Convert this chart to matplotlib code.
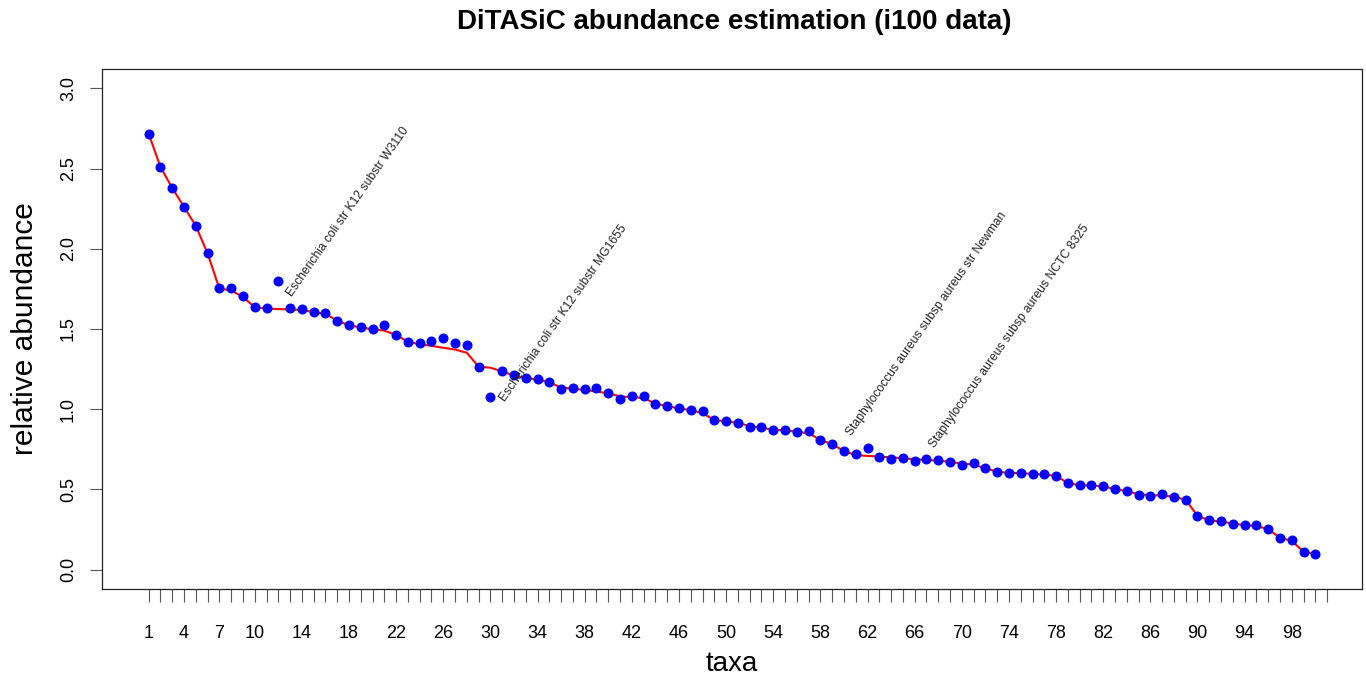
import numpy as np
import matplotlib.pyplot as plt

plt.rcParams['font.family'] = ['Liberation Sans', 'DejaVu Sans']

# estimated abundance per taxon (blue dots), taxa ordered by true abundance
estimated = [2.717, 2.510, 2.379, 2.261, 2.143, 1.971, 1.753, 1.753, 1.705, 1.635,
             1.628, 1.800, 1.628, 1.624, 1.605, 1.601, 1.551, 1.523, 1.514, 1.498,
             1.523, 1.464, 1.421, 1.411, 1.427, 1.446, 1.411, 1.400, 1.265, 1.078,
             1.238, 1.213, 1.197, 1.191, 1.172, 1.124, 1.131, 1.124, 1.131, 1.101,
             1.064, 1.083, 1.083, 1.035, 1.021, 1.006, 0.994, 0.991, 0.933, 0.929,
             0.917, 0.892, 0.888, 0.871, 0.871, 0.857, 0.865, 0.809, 0.782, 0.740,
             0.722, 0.757, 0.705, 0.693, 0.699, 0.680, 0.689, 0.683, 0.674, 0.653,
             0.664, 0.633, 0.610, 0.604, 0.604, 0.597, 0.597, 0.585, 0.540, 0.527,
             0.527, 0.521, 0.502, 0.492, 0.467, 0.462, 0.469, 0.456, 0.436, 0.336,
             0.307, 0.301, 0.288, 0.276, 0.276, 0.253, 0.199, 0.185, 0.112, 0.100]

# true abundance (red line)
true_abund = [2.717, 2.510, 2.379, 2.261, 2.143, 1.971, 1.753, 1.740, 1.700, 1.635,
              1.628, 1.624, 1.622, 1.618, 1.605, 1.595, 1.551, 1.523, 1.510, 1.498,
              1.490, 1.462, 1.421, 1.405, 1.395, 1.383, 1.372, 1.352, 1.265, 1.259,
              1.235, 1.210, 1.195, 1.185, 1.168, 1.135, 1.128, 1.120, 1.110, 1.100,
              1.080, 1.075, 1.070, 1.035, 1.020, 1.005, 0.995, 0.975, 0.933, 0.925,
              0.915, 0.895, 0.885, 0.872, 0.868, 0.860, 0.850, 0.809, 0.782, 0.740,
              0.715, 0.709, 0.705, 0.700, 0.695, 0.688, 0.684, 0.680, 0.672, 0.662,
              0.655, 0.633, 0.610, 0.604, 0.602, 0.597, 0.593, 0.585, 0.540, 0.527,
              0.525, 0.520, 0.502, 0.490, 0.470, 0.465, 0.462, 0.455, 0.436, 0.336,
              0.307, 0.300, 0.288, 0.278, 0.272, 0.253, 0.199, 0.180, 0.112, 0.100]

# strain names written next to selected taxa
label_names = ["Escherichia coli str K12 substr W3110",
               "Escherichia coli str K12 substr MG1655",
               "Staphylococcus aureus subsp aureus str Newman",
               "Staphylococcus aureus subsp aureus NCTC 8325"]
label_x = [13.2, 31.2, 60.65, 67.7]
label_y = [1.701, 1.047, 0.829, 0.757]

tick_pos = list(range(1, 102))
tick_labels = [1, 4, 7, 10, 14, 18, 22, 26, 30, 34, 38, 42, 46, 50, 54, 58,
               62, 66, 70, 74, 78, 82, 86, 90, 94, 98]

taxa = np.arange(1, len(estimated) + 1)

fig = plt.figure(figsize=(13.66, 6.81), dpi=100)
ax = fig.add_axes([102 / 1366, 92 / 681, 1260 / 1366, 520 / 681])

ax.plot(taxa, true_abund, color='#FF0000', lw=1.5, zorder=2)
ax.plot(taxa, estimated, 'o', color='#0000FF', ms=6.2, mec='#0000FF', zorder=3)

for name, lx, ly in zip(label_names, label_x, label_y):
    ax.text(lx, ly, name, rotation=55, rotation_mode='anchor',
            ha='left', va='baseline', fontsize=8.7, color='#222222')

ax.set_xlim(-2.96, 103.96)
ax.set_ylim(-0.12, 3.12)

ax.set_xticks(tick_pos)
ax.set_xticklabels([str(t) if t in tick_labels else '' for t in tick_pos])
ax.set_yticks(np.arange(0, 3.01, 0.5))
ax.set_yticklabels(['%.1f' % v for v in np.arange(0, 3.01, 0.5)],
                   rotation=90, va='center')

ax.tick_params(axis='x', length=9, width=0.8, color='#555555',
               labelsize=13, pad=17)
ax.tick_params(axis='y', length=9, width=0.8, color='#555555',
               labelsize=13, pad=9)
for sp in ax.spines.values():
    sp.set_linewidth(0.9)
    sp.set_color('#222222')

ax.set_xlabel('taxa', fontsize=20)
ax.xaxis.set_label_coords(0.5, -0.145)
ax.xaxis.label.set_va('center')
ax.set_ylabel('relative abundance', fontsize=21.5)
ax.yaxis.set_label_coords(-0.061, 0.5)
ax.yaxis.label.set_va('center')

fig.text(734 / 1366, 1 - 22 / 681, 'DiTASiC abundance estimation (i100 data)',
         ha='center', va='center', fontsize=20, fontweight='bold')

fig.savefig('out.png', dpi=100)
